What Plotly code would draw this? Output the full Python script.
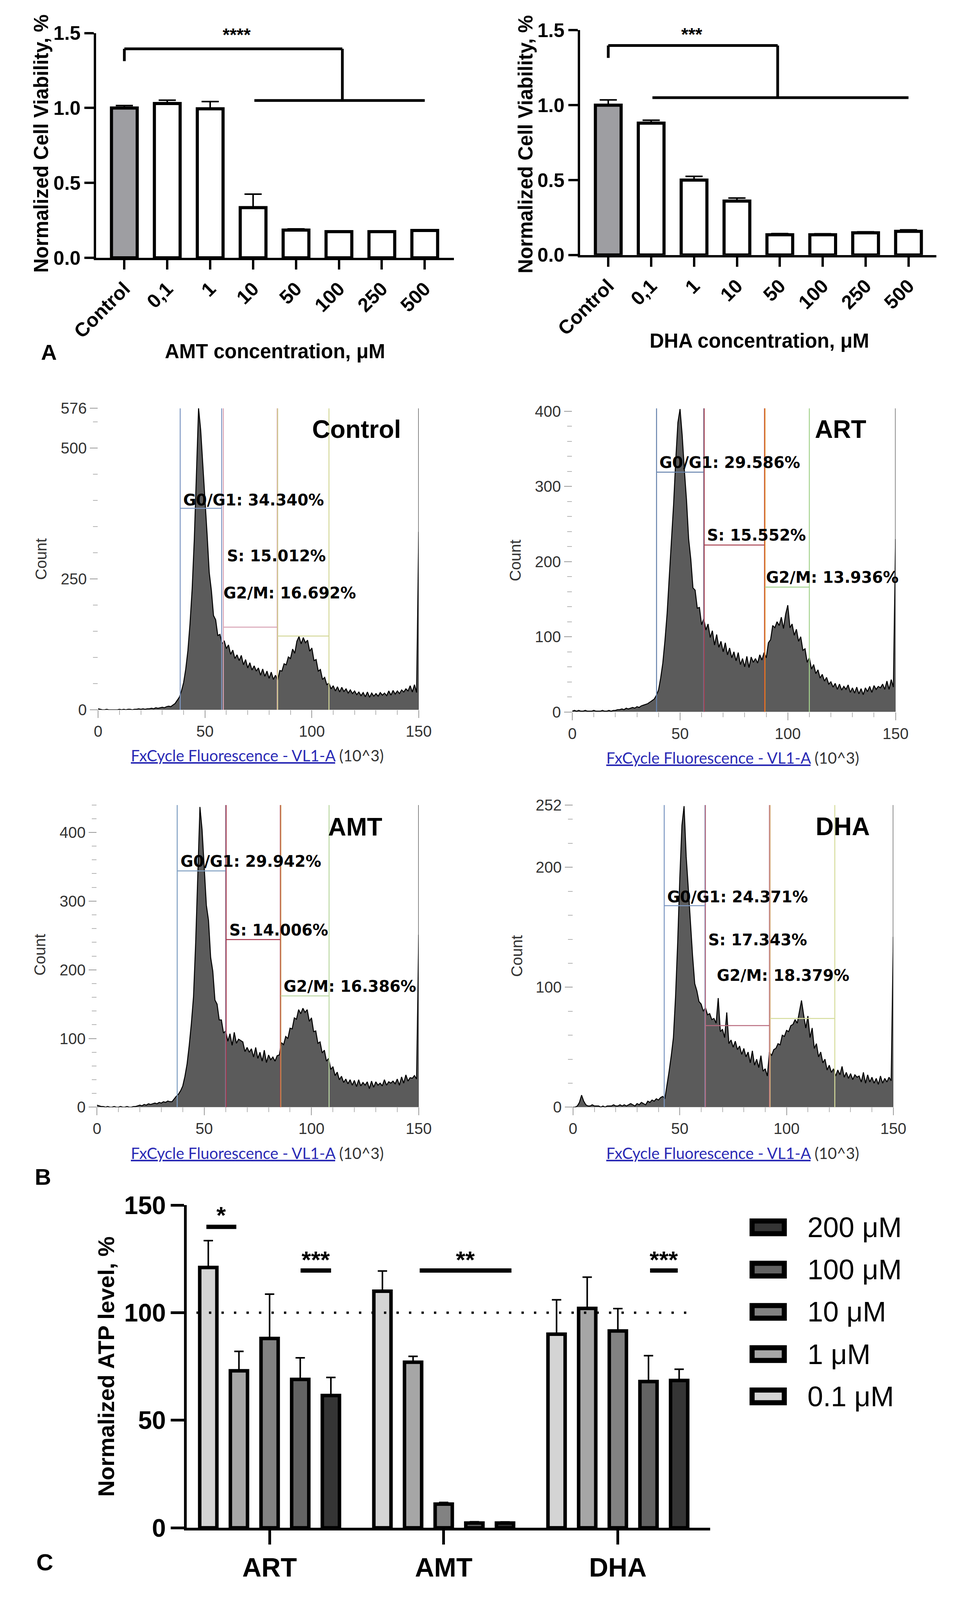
import plotly.graph_objects as go

W, H = 2455, 4462

# ---------------- panel A: cell viability ----------------
conc_labels = ['Control', '0,1', '1', '10', '50', '100', '250', '500']
amt_viability = [1.00, 1.03, 0.995, 0.335, 0.185, 0.175, 0.175, 0.183]
amt_err = [0.016, 0.022, 0.048, 0.09, 0.008, 0.005, 0.004, 0.005]
dha_viability = [1.00, 0.88, 0.50, 0.36, 0.135, 0.135, 0.148, 0.158]
dha_err = [0.035, 0.02, 0.025, 0.02, 0.008, 0.007, 0.007, 0.01]

# ---------------- panel B: cell cycle histograms ----------------
hist_x = list(range(151))  # FxCycle fluorescence bins, 10^3

control_counts = [
    2, 1, 0, 0, 1, 0, 0, 0, 0, 0,
    1, 0, 1, 0, 1, 1, 0, 1, 1, 2,
    1, 2, 1, 2, 2, 3, 2, 4, 3, 4,
    5, 4, 6, 7, 6, 9, 12, 18, 24, 36,
    52, 78, 113, 165, 231, 326, 444, 576, 534, 467,
    406, 335, 262, 228, 180, 172, 142, 144, 126, 132,
    117, 124, 106, 114, 98, 105, 94, 104, 86, 96,
    80, 90, 76, 84, 74, 80, 66, 78, 64, 74,
    60, 72, 58, 66, 56, 75, 74, 88, 86, 101,
    98, 116, 108, 131, 140, 126, 138, 128, 133, 112,
    118, 94, 96, 74, 77, 58, 62, 48, 51, 40,
    46, 36, 44, 34, 43, 35, 40, 32, 38, 31,
    36, 29, 34, 27, 33, 25, 34, 24, 32, 26,
    31, 26, 33, 28, 32, 27, 36, 28, 37, 30,
    36, 31, 38, 34, 40, 36, 46, 34, 48, 33,
    340]

art_counts = [
    1, 2, 1, 2, 1, 1, 2, 1, 1, 1,
    2, 1, 1, 1, 2, 1, 1, 2, 1, 2,
    2, 3, 3, 4, 3, 5, 4, 5, 6, 5,
    7, 6, 8, 9, 10, 11, 13, 15, 17, 22,
    29, 45, 65, 95, 131, 180, 230, 276, 335, 385,
    403, 368, 322, 282, 230, 203, 165, 162, 138, 139,
    116, 124, 109, 117, 99, 108, 89, 103, 86, 94,
    80, 92, 76, 85, 72, 80, 68, 79, 63, 71,
    60, 74, 59, 73, 66, 71, 65, 76, 69, 79,
    72, 92, 96, 115, 112, 120, 115, 126, 111, 130,
    142, 112, 117, 102, 110, 94, 100, 82, 84, 66,
    72, 57, 63, 51, 56, 45, 50, 41, 46, 37,
    40, 33, 38, 30, 37, 29, 34, 30, 36, 26,
    32, 25, 33, 24, 31, 23, 32, 27, 34, 26,
    35, 30, 34, 32, 37, 30, 41, 30, 43, 33,
    230]

amt_counts = [
    3, 2, 1, 1, 0, 1, 0, 0, 1, 0,
    0, 1, 0, 0, 1, 0, 0, 1, 1, 2,
    3, 2, 4, 3, 5, 4, 5, 6, 5, 7,
    6, 8, 7, 9, 8, 8, 12, 16, 19, 24,
    31, 45, 63, 90, 122, 161, 239, 337, 437, 404,
    349, 294, 272, 218, 198, 156, 150, 127, 127, 108,
    111, 96, 107, 90, 109, 93, 99, 97, 95, 81,
    87, 80, 85, 73, 87, 71, 80, 67, 83, 65,
    76, 69, 73, 67, 75, 76, 94, 91, 103, 100,
    115, 114, 130, 128, 142, 136, 144, 138, 142, 125,
    130, 110, 111, 93, 95, 79, 83, 67, 71, 55,
    59, 46, 51, 40, 45, 36, 41, 34, 40, 32,
    39, 30, 40, 31, 36, 32, 37, 27, 38, 29,
    37, 32, 35, 31, 40, 32, 37, 35, 38, 34,
    41, 32, 44, 35, 47, 38, 43, 42, 46, 41,
    251]

dha_counts = [
    0, 0, 1, 4, 10, 5, 2, 1, 1, 2,
    1, 1, 1, 0, 1, 0, 1, 1, 1, 2,
    1, 1, 2, 1, 2, 1, 2, 3, 2, 1,
    3, 2, 4, 3, 2, 5, 4, 6, 5, 7,
    6, 8, 9, 7, 18, 30, 43, 58, 92, 137,
    191, 235, 251, 209, 182, 155, 126, 103, 97, 88,
    86, 80, 83, 77, 78, 73, 74, 70, 91, 63,
    65, 58, 79, 53, 56, 50, 55, 48, 51, 44,
    49, 42, 46, 37, 47, 35, 40, 33, 43, 30,
    32, 26, 46, 43, 48, 49, 53, 52, 60, 59,
    64, 63, 68, 69, 73, 70, 79, 89, 77, 66,
    76, 58, 66, 49, 53, 42, 46, 37, 40, 31,
    35, 29, 32, 26, 31, 27, 34, 25, 29, 24,
    28, 23, 27, 25, 26, 21, 29, 20, 27, 21,
    25, 20, 24, 19, 26, 20, 24, 21, 25, 22,
    142]

# gates (left, right, marker height) and reported phase percentages
control_gates = {'g1': (38.4, 57.8, 385), 's': (58.6, 83.8, 158), 'g2': (84.0, 108.0, 141)}
art_gates = {'g1': (39.1, 61.0, 319), 's': (61.2, 89.2, 222), 'g2': (89.4, 110.0, 166)}
amt_gates = {'g1': (37.4, 60.0, 344), 's': (60.2, 85.5, 244), 'g2': (85.7, 108.2, 162)}
dha_gates = {'g1': (42.7, 61.8, 168), 's': (62.0, 92.0, 68), 'g2': (92.3, 122.6, 74)}

control_pct = ['34.340%', '15.012%', '16.692%']
art_pct = ['29.586%', '15.552%', '13.936%']
amt_pct = ['29.942%', '14.006%', '16.386%']
dha_pct = ['24.371%', '17.343%', '18.379%']

# ---------------- panel C: ATP level ----------------
atp_groups = ['ART', 'AMT', 'DHA']
atp_doses = ['0.1 μM', '1 μM', '10 μM', '100 μM', '200 μM']
atp_values = [[121, 110, 90], [73, 77, 102], [88, 11, 91.5], [69, 2.2, 68], [61.5, 2.2, 68.5]]
atp_err = [[12.5, 9.4, 16], [9, 2.7, 14.5], [20.6, 0.8, 10.4], [10, 0.6, 12], [8.4, 0.5, 5.2]]
atp_reference = 100

ARIAL = 'Liberation Sans, Arial, sans-serif'
ATP_COLORS = ['#d4d4d4', '#a6a6a6', '#828282', '#636363', '#353535']


def fx(p):
    return p / W


def fy(p):
    return 1 - p / H


fig = go.Figure()
shapes = []
annotations = []


def ann(text, x, y, size, bold=True, angle=0, family=ARIAL, color='black',
        xanchor='center', xref='paper', yref='paper', yshift=0):
    if xref == 'paper':
        x = fx(x)
    if yref == 'paper':
        y = fy(y)
    annotations.append(dict(
        text='<b>%s</b>' % text if bold else text, x=x, y=y, xref=xref, yref=yref,
        showarrow=False, textangle=angle, xanchor=xanchor, yanchor='middle',
        yshift=yshift, font=dict(family=family, size=size, color=color)))


def seg(xref, yref, x0, y0, x1, y1, width, color='black', dash=None):
    shapes.append(dict(type='line', xref=xref, yref=yref, x0=x0, y0=y0, x1=x1, y1=y1,
                       line=dict(color=color, width=width, dash=dash), layer='above'))


axes = {}

# ---- panel A ----
a_panels = [
    dict(n=1, vals=amt_viability, err=amt_err, xd=(186, 1141), yd=(54, 692),
         xr=[-0.655, 7.68], title='AMT concentration, μM', tpos=(663, 957), ytpos=(40, 368),
         bracket=dict(top=1.395, leg=1.3125, drop=5.08, span=(3.03, 7), base=1.05),
         stars='****', spos=(2.62, 1.52)),
    dict(n=2, vals=dha_viability, err=dha_err, xd=(1478, 2429), yd=(46, 684),
         xr=[-0.655, 7.65], title='DHA concentration, μM', tpos=(1957, 928), ytpos=(1332, 370),
         bracket=dict(top=1.398, leg=1.3155, drop=3.95, span=(1.03, 7), base=1.05),
         stars='***', spos=(1.95, 1.503)),
]
for p in a_panels:
    sfx = '' if p['n'] == 1 else str(p['n'])
    fig.add_trace(go.Bar(
        x=conc_labels, y=p['vals'], width=0.6,
        marker=dict(color=['#9e9ea2'] + ['white'] * 7, line=dict(color='black', width=8)),
        error_y=dict(type='data', symmetric=False, array=p['err'], arrayminus=[0] * 8,
                     color='black', thickness=4, width=22),
        xaxis='x' + sfx, yaxis='y' + sfx, showlegend=False))
    axes['xaxis' + sfx] = dict(
        domain=[fx(p['xd'][0]), fx(p['xd'][1])], anchor='y' + sfx, range=p['xr'],
        showline=True, linewidth=6, linecolor='black', ticks='outside', ticklen=24,
        tickwidth=6, tickcolor='black', tickangle=-45, showgrid=False, zeroline=False,
        tickfont=dict(family=ARIAL, size=50, color='black', weight='bold'))
    axes['yaxis' + sfx] = dict(
        domain=[fy(p['yd'][1]), fy(p['yd'][0])], anchor='x' + sfx, range=[0, 1.5],
        tickvals=[0, 0.5, 1.0, 1.5], tickformat='.1f', showline=True, linewidth=6,
        linecolor='black', ticks='outside', ticklen=24, tickwidth=6, tickcolor='black',
        showgrid=False, zeroline=False,
        tickfont=dict(family=ARIAL, size=50, color='black', weight='bold'))
    xr, yr = 'x' + sfx, 'y' + sfx
    b = p['bracket']
    seg(xr, yr, 0, b['leg'], 0, b['top'], 7)
    seg(xr, yr, 0, b['top'], b['drop'], b['top'], 7)
    seg(xr, yr, b['drop'], b['top'], b['drop'], b['base'], 7)
    seg(xr, yr, b['span'][0], b['base'], b['span'][1], b['base'], 7)
    # stars sit above the axis range, so place them on the axis domain scale
    ann(p['stars'], p['spos'][0], p['spos'][1] / 1.5, 46, xref=xr,
        yref=yr + ' domain', yshift=-12)
    ann(p['title'], p['tpos'][0], p['tpos'][1], 51)
    ann('Normalized Cell Viability, %', p['ytpos'][0], p['ytpos'][1], 51, angle=-90)

ann('A', 59, 960, 56)

# ---- panel B ----
b_panels = [
    dict(n=3, name='Control', counts=control_counts, gates=control_gates, pct=control_pct,
         xd=(191, 1047), yd=(1119, 1975), ymax=576, yt=[0, 250, 500, 576], minor=50,
         colors=('#7f98c4', '#d8a3b4', '#d0cc8c', '#d4d89a'),
         lab=[(39.4, 401), (60.0, 294), (58.2, 223)], tpos=(121, 536),
         count_pos=(39, 1547), fx_pos=(616, 2105)),
    dict(n=4, name='ART', counts=art_counts, gates=art_gates, pct=art_pct,
         xd=(1457, 2320), yd=(1119, 1981), ymax=404, yt=[0, 100, 200, 300, 400], minor=20,
         colors=('#6683ad', '#a8404f', '#e5811f', '#a5d38e'),
         lab=[(40.0, 332), (62.2, 235), (89.6, 179)], tpos=(124.6, 376),
         count_pos=(1304, 1551), fx_pos=(1885, 2111)),
    dict(n=5, name='AMT', counts=amt_counts, gates=amt_gates, pct=amt_pct,
         xd=(188, 1047), yd=(2245, 3103), ymax=440, yt=[0, 100, 200, 300, 400], minor=20,
         colors=('#7f9fc2', '#a8344a', '#cc8c4e', '#bcd9a4'),
         lab=[(38.6, 358), (61.4, 258), (86.7, 176)], tpos=(120.5, 408),
         count_pos=(35, 2670), fx_pos=(616, 3233)),
    dict(n=6, name='DHA', counts=dha_counts, gates=dha_gates, pct=dha_pct,
         xd=(1459, 2314), yd=(2245, 3103), ymax=252, yt=[0, 100, 200, 252], minor=20,
         colors=('#7b97c2', '#b86a7e', '#d6ac7c', '#d6dd9c'),
         lab=[(43.7, 175.5), (62.9, 139.5), (67.0, 110)], tpos=(126.3, 234),
         count_pos=(1308, 2674), fx_pos=(1885, 3233)),
]
for p in b_panels:
    n = str(p['n'])
    xr, yr = 'x' + n, 'y' + n
    fig.add_trace(go.Scatter(
        x=hist_x, y=p['counts'], mode='lines', line=dict(color='black', width=2.5),
        fill='tozeroy', fillcolor='#5b5b5b', xaxis=xr, yaxis=yr, showlegend=False,
        hoverinfo='skip'))
    tick_font = dict(family=ARIAL, size=40, color='#333333')
    axes['xaxis' + n] = dict(
        domain=[fx(p['xd'][0]), fx(p['xd'][1])], anchor=yr, range=[0, 150],
        tickvals=[0, 50, 100, 150], ticks='outside', ticklen=20, tickwidth=2,
        tickcolor='#9a9a9a', showline=False, showgrid=False, zeroline=False,
        tickfont=tick_font,
        minor=dict(tickmode='linear', tick0=0, dtick=10, ticks='outside', ticklen=12,
                   tickwidth=2, tickcolor='#b5b5b5'))
    axes['yaxis' + n] = dict(
        domain=[fy(p['yd'][1]), fy(p['yd'][0])], anchor=xr, range=[0, p['ymax']],
        tickvals=p['yt'], ticks='outside', ticklen=20, tickwidth=2,
        tickcolor='#9a9a9a', showline=False, showgrid=False, zeroline=False,
        tickfont=tick_font,
        minor=dict(tickmode='linear', tick0=0, dtick=p['minor'], ticks='outside',
                   ticklen=12, tickwidth=2, tickcolor='#b5b5b5'))
    c_g1, c_s, c_edge, c_g2 = p['colors']
    g = p['gates']
    top = p['ymax']
    # vertical gate boundaries
    seg(xr, yr, g['g1'][0], 0, g['g1'][0], top, 2.5, c_g1)
    seg(xr, yr, g['g1'][1], 0, g['g1'][1], top, 2.5, c_g1)
    seg(xr, yr, g['s'][0], 0, g['s'][0], top, 2.5, c_s)
    seg(xr, yr, g['g2'][1], 0, g['g2'][1], top, 2.5, c_g2)
    seg(xr, yr, g['s'][1], 0, g['s'][1], top, 2.5, c_s)
    seg(xr, yr, g['g2'][0], 0, g['g2'][0], top, 2.5, c_edge)
    seg(xr, yr, 150, 0, 150, top, 2.5, '#4a4a4a')
    # horizontal gate markers
    seg(xr, yr, g['g1'][0], g['g1'][2], g['g1'][1], g['g1'][2], 2.5, c_g1)
    seg(xr, yr, g['s'][0], g['s'][2], g['s'][1], g['s'][2], 2.5, c_s)
    seg(xr, yr, g['g2'][0], g['g2'][2], g['g2'][1], g['g2'][2], 2.5, c_g2)
    for lab, (lx, ly), pct in zip(['G0/G1', 'S', 'G2/M'], p['lab'], p['pct']):
        ann('%s: %s' % (lab, pct), lx, ly, 40, xref=xr, yref=yr, xanchor='left',
            family='DejaVu Sans, Verdana, sans-serif')
    ann(p['name'], p['tpos'][0], p['tpos'][1], 64, xref=xr, yref=yr)
    ann('Count', p['count_pos'][0], p['count_pos'][1], 40, bold=False, angle=-90,
        color='#333333')
    ann('<span style="color:#2a2ab5"><u>FxCycle Fluorescence - VL1-A</u></span> (10^3)',
        p['fx_pos'][0], p['fx_pos'][1], 40, bold=False, family='Lato, Open Sans, sans-serif',
        color='#333333')

ann('B', 44, 3300, 58)

# ---- panel C ----
for dose, vals, errs, col in zip(atp_doses, atp_values, atp_err, ATP_COLORS):
    fig.add_trace(go.Bar(
        x=atp_groups, y=vals, name=dose,
        marker=dict(color=col, line=dict(color='black', width=9)),
        error_y=dict(type='data', symmetric=False, array=errs, arrayminus=[0] * 3,
                     color='black', thickness=4, width=12),
        xaxis='x7', yaxis='y7', showlegend=False))

axes['xaxis7'] = dict(
    domain=[fx(428), fx(1825)], anchor='y7', range=[-0.475, 2.53],
    showline=True, linewidth=7, linecolor='black', ticks='outside', ticklen=36,
    tickwidth=7, tickcolor='black', showgrid=False, zeroline=False,
    tickfont=dict(family=ARIAL, size=68, color='black', weight='bold'))
axes['yaxis7'] = dict(
    domain=[fy(4297), fy(3381)], anchor='x7', range=[0, 150], tickvals=[0, 50, 100, 150],
    showline=True, linewidth=7, linecolor='black', ticks='outside', ticklen=34,
    tickwidth=7, tickcolor='black', showgrid=False, zeroline=False,
    tickfont=dict(family=ARIAL, size=64, color='black', weight='bold'))

seg('x7', 'y7', -0.42, atp_reference, 2.42, atp_reference, 6, dash='6px,26px')

sig_marks = [(-0.363, -0.191, 139.9, '*', 148), (0.178, 0.353, 119.6, '***', 127.2),
             (0.862, 1.389, 119.6, '**', 127.2), (2.185, 2.344, 119.6, '***', 127.2)]
for x0, x1, yb, txt, yt in sig_marks:
    seg('x7', 'y7', x0, yb, x1, yb, 11)
    ann(txt, (x0 + x1) / 2, yt, 62, xref='x7', yref='y7', yshift=-14)

ann('Normalized ATP level, %', 212, 3839, 58, angle=-90)
ann('C', 48, 4395, 60)

# manual legend (largest dose on top)
for i, (dose, col) in enumerate(zip(atp_doses[::-1], ATP_COLORS[::-1])):
    cy = 3444 + i * 120
    shapes.append(dict(type='rect', xref='paper', yref='paper',
                       x0=fx(1937), x1=fx(2023), y0=fy(cy + 18), y1=fy(cy - 18),
                       fillcolor=col, line=dict(color='black', width=13)))
    ann(dose, 2083, cy, 72, bold=False, xanchor='left')

fig.update_layout(
    autosize=True, margin=dict(l=0, r=0, t=0, b=0),
    paper_bgcolor='white', plot_bgcolor='white', barmode='group',
    bargap=0.12, bargroupgap=0.44, shapes=shapes, annotations=annotations,
    font=dict(family=ARIAL), **axes)

# fill exactly the visible browser window, with no page margin or scrollbars
fit_page = (
    "document.documentElement.style.overflow='hidden';"
    "document.body.style.margin='0px';document.body.style.overflow='hidden';"
    "Plotly.Plots.resize(document.getElementById('{plot_id}'));"
)
fig.write_html("out.html", default_width='100vw', default_height='100vh',
               config={'displayModeBar': False}, post_script=fit_page)
